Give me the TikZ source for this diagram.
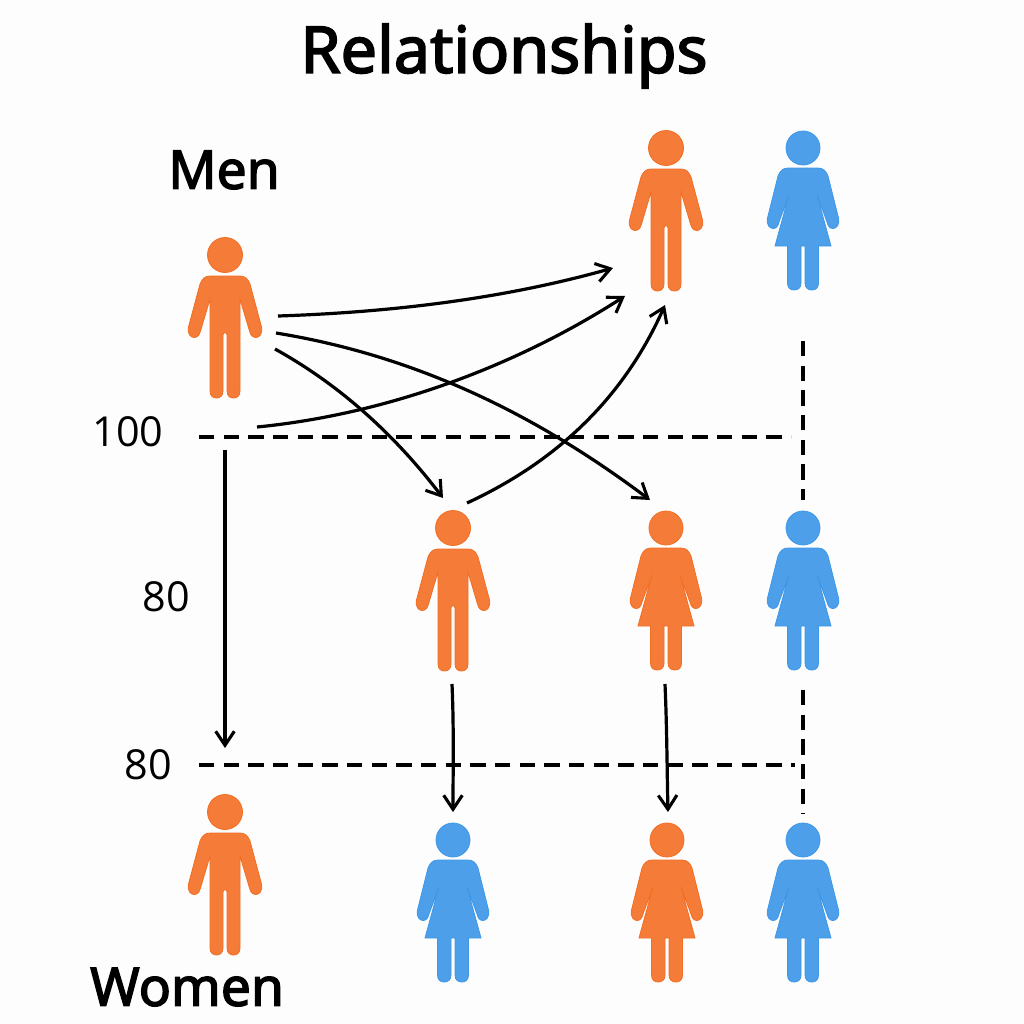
\documentclass[tikz,border=0pt]{standalone}
\usepackage{fontspec}
\setmainfont{Open Sans}
\newfontfamily\headfont[FakeBold=2.6]{Noto Sans}
\usetikzlibrary{arrows.meta}
\definecolor{mano}{HTML}{F47C38}
\definecolor{manoe}{HTML}{F26E22}
\definecolor{wblue}{HTML}{4C9FE8}
\definecolor{wbluee}{HTML}{3F97E8}
\definecolor{paper}{HTML}{FDFDFD}
\tikzset{
  figfill/.style={line width=0.6pt},
  orangefig/.style={figfill,fill=mano,draw=manoe},
  bluefig/.style={figfill,fill=wblue,draw=wbluee},
  flow/.style={line width=2.4pt,draw=black,-{Straight Barb[length=10.5pt,width=14pt,line width=2.3pt]}},
  guide/.style={line width=2.5pt,draw=black,dash pattern=on 11.5pt off 7pt},
  heading/.style={font=\headfont\fontsize{48.5}{60}\selectfont,inner sep=0pt,anchor=center},
  sidehead/.style={font=\headfont\fontsize{40}{50}\selectfont,inner sep=0pt,anchor=center},
  tick/.style={font=\fontsize{31}{36}\selectfont,inner sep=0pt,anchor=center},
  man/.pic={
    \fill[pic actions] (0,0) circle (17.5);
    \fill[pic actions] (-15,21) .. controls (-20,21) and (-23,24) .. (-25,29)
      -- (-36.5,72) .. controls (-38,79) and (-34,82.5) .. (-31,82.5)
      .. controls (-27.5,82.5) and (-25.5,80) .. (-24.5,76)
      -- (-15,44) -- (-15,136) .. controls (-15,141) and (-12,143) .. (-8.5,143)
      .. controls (-5,143) and (-2,141) .. (-2,136) -- (-2,80)
      .. controls (-2,77) and (2,77) .. (2,80) -- (2,136)
      .. controls (2,141) and (5,143) .. (8.5,143)
      .. controls (12,143) and (15,141) .. (15,136) -- (15,44)
      -- (24.5,76) .. controls (25.5,80) and (27.5,82.5) .. (31,82.5)
      .. controls (34,82.5) and (38,79) .. (36.5,72)
      -- (25,29) .. controls (23,24) and (20,21) .. (15,21) -- cycle;
  },
  woman/.pic={
    \fill[pic actions] (0,0) circle (17);
    \fill[pic actions] (-15,20) .. controls (-20,20) and (-23,23) .. (-25,28)
      -- (-35.5,70) .. controls (-37,77) and (-33,80.5) .. (-30,80.5)
      .. controls (-26.5,80.5) and (-25,78) .. (-24,74)
      -- (-14,47) -- (-28,98) -- (-15.5,98) -- (-15.5,135)
      .. controls (-15.5,140) and (-12.5,142) .. (-9,142)
      .. controls (-5,142) and (-2,140) .. (-2,135) -- (-2,98) -- (2,98) -- (2,135)
      .. controls (2,140) and (5,142) .. (9,142)
      .. controls (12.5,142) and (15.5,140) .. (15.5,135) -- (15.5,98) -- (28,98)
      -- (14,47) -- (24,74) .. controls (25,78) and (26.5,80.5) .. (30,80.5)
      .. controls (33,80.5) and (37,77) .. (35.5,70)
      -- (25,28) .. controls (23,23) and (20,20) .. (15,20) -- cycle;
  },
}
\begin{document}
\begin{tikzpicture}[x=0.75pt,y=-0.75pt]
\useasboundingbox[fill=paper] (0,0) rectangle (1024,1024);
% text
\node[heading] (title) at (504,56) {Relationships};
\node[sidehead] (men) at (224,170) {Men};
\node[sidehead] (women) at (187,987) {Women};
\node[tick] (n100) at (128,432) {100};
\node[tick] (n80a) at (166,597) {80};
\node[tick] (n80b) at (148,765) {80};
% figures
\pic[orangefig] at (225,255) {man};
\pic[orangefig] at (666,148) {man};
\pic[bluefig] at (803,148) {woman};
\pic[orangefig] at (453,528) {man};
\pic[orangefig] at (666,528) {woman};
\pic[bluefig] at (803,528) {woman};
\pic[orangefig] at (225,812) {man};
\pic[bluefig] at (453,840) {woman};
\pic[orangefig] at (667,840) {woman};
\pic[bluefig] at (803,840) {woman};
% guide ends
\coordinate (ga1) at (199,437); \coordinate (ga2) at (791,437);
\coordinate (gb1) at (199,765); \coordinate (gb2) at (795,765);
\coordinate (gc1) at (803,341); \coordinate (gc2) at (803,500);
\coordinate (gd1) at (803,690); \coordinate (gd2) at (803,814);
\draw[guide] (ga1) -- (ga2);
\draw[guide] (gb1) -- (gb2);
\draw[guide] (gc1) -- (gc2);
\draw[guide] (gd1) -- (gd2);
% arrow ends
\coordinate (a1) at (278,316); \coordinate (a2) at (613,268);
\coordinate (b1) at (257,427); \coordinate (b2) at (625,296);
\coordinate (c1) at (276,333); \coordinate (c2) at (650,500);
\coordinate (d1) at (275,349); \coordinate (d2) at (443,498);
\coordinate (e1) at (467,503); \coordinate (e2) at (665,305);
\coordinate (f1) at (225,450); \coordinate (f2) at (225,748);
\coordinate (h1) at (452,684); \coordinate (h2) at (453,812);
\coordinate (i1) at (665,684); \coordinate (i2) at (668,812);
\draw[flow] (a1) .. controls (400,312) and (510,297) .. (a2);
\draw[flow] (b1) .. controls (380,415) and (510,370) .. (b2);
\draw[flow] (c1) .. controls (430,358) and (550,425) .. (c2);
\draw[flow] (d1) .. controls (340,385) and (395,435) .. (d2);
\draw[flow] (e1) .. controls (560,460) and (625,395) .. (e2);
\draw[flow] (f1) -- (f2);
\draw[flow] (h1) .. controls (454,730) and (453,770) .. (h2);
\draw[flow] (i1) .. controls (667,730) and (667,770) .. (i2);
\end{tikzpicture}
\end{document}
